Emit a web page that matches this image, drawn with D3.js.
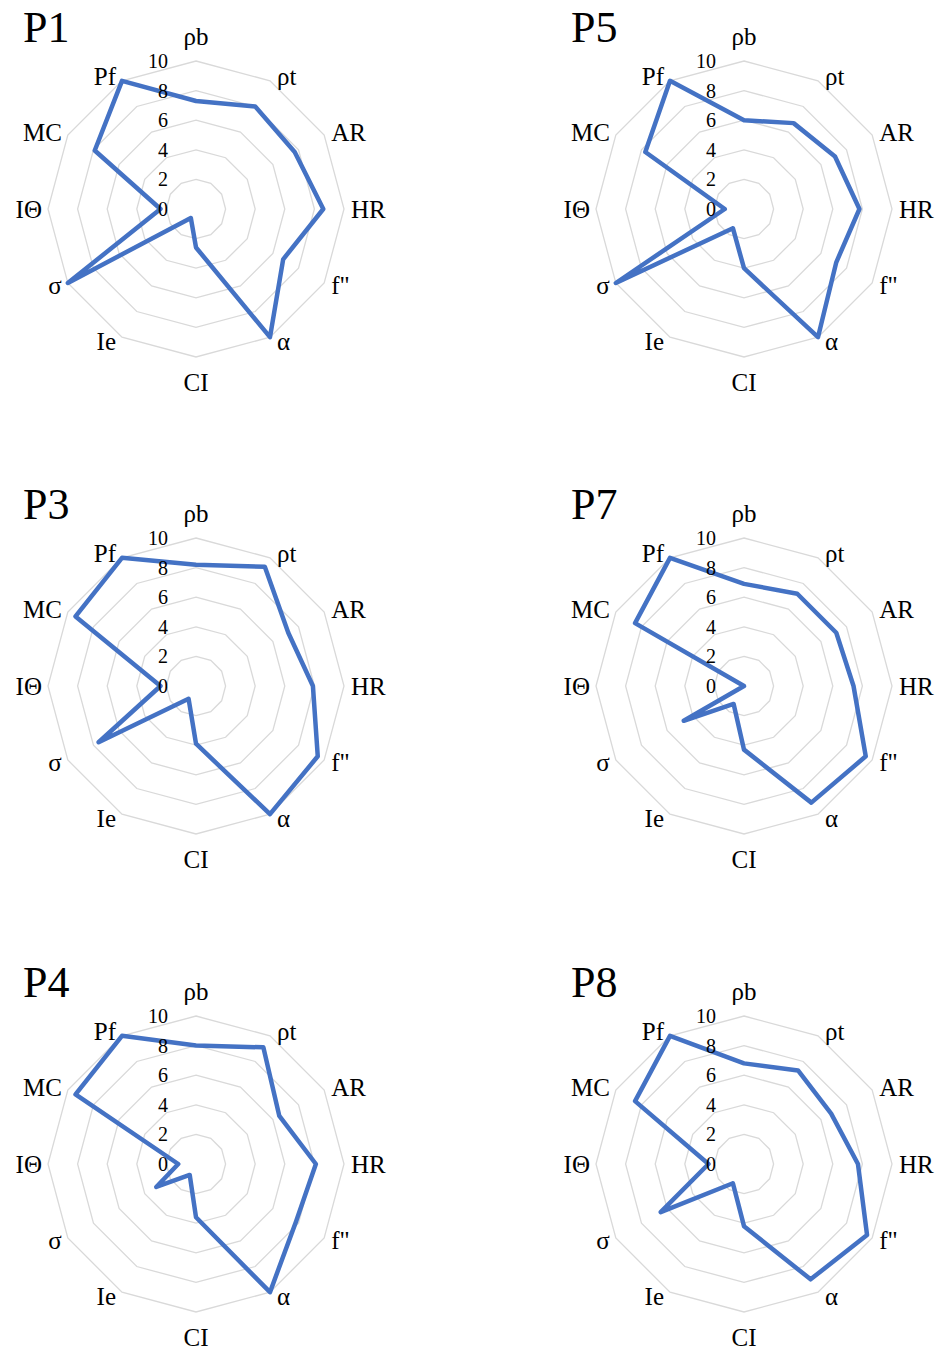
<!DOCTYPE html>
<html>
<head>
<meta charset="utf-8">
<script src="https://cdn.jsdelivr.net/npm/d3@7"></script>
<style>
  body { margin: 0; background: #fff; }
  svg { display: block; }
  text { font-family: "Liberation Serif", "DejaVu Serif", serif; fill: #000; }
</style>
</head>
<body>
<div id="chart"></div>
<script>
// axes clockwise from top
var axes = ["ρb", "ρt", "AR", "HR", "f\"", "α", "CI", "Ie", "σ", "IΘ", "MC", "Pf"];
var ticks = [0, 2, 4, 6, 8, 10];
var panels = ["P1", "P5", "P3", "P7", "P4", "P8"];

var p1 = [7.3, 8.0, 7.7, 8.6, 6.8, 10, 2.6, 0.7, 10, 2.4, 7.9, 10];
var p5 = [6.0, 6.7, 7.1, 7.8, 7.2, 10, 4.0, 1.5, 10, 1.3, 7.7, 10];
var p3 = [8.2, 9.3, 7.2, 7.9, 9.5, 10, 3.9, 1.0, 7.6, 2.4, 9.4, 10];
var p7 = [6.9, 7.2, 7.2, 7.4, 9.5, 9.1, 4.3, 1.4, 4.7, 0, 8.5, 10];
var p4 = [8.0, 9.1, 6.5, 8.1, 7.8, 10, 3.6, 0.85, 3.1, 1.2, 9.4, 10];
var p8 = [6.8, 7.3, 6.8, 7.7, 9.6, 9.0, 4.2, 1.5, 6.5, 2.4, 8.5, 10];

var series = [p1, p5, p3, p7, p4, p8];

var width = 940, height = 1351;
var R = 148;
var colX = [196, 744];
var rowY = [209, 686, 1164];

var svg = d3.select("#chart").append("svg")
    .attr("width", width)
    .attr("height", height);

var r = d3.scaleLinear().domain([0, 10]).range([0, R]);
var angle = d3.scalePoint().domain(d3.range(axes.length))
    .range([0, 2 * Math.PI * (axes.length - 1) / axes.length]);

var radar = d3.lineRadial()
    .angle(function (d, i) { return angle(i); })
    .radius(function (d) { return r(d); })
    .curve(d3.curveLinearClosed);

panels.forEach(function (name, k) {
    var cx = colX[k % 2], cy = rowY[Math.floor(k / 2)];
    var g = svg.append("g").attr("transform", "translate(" + cx + "," + cy + ")");

    // grid rings
    ticks.filter(function (t) { return t > 0; }).forEach(function (t) {
        g.append("path")
            .attr("d", radar(axes.map(function () { return t; })))
            .attr("fill", "none")
            .attr("stroke", "#d9d9d9")
            .attr("stroke-width", 1.3);
    });

    // data line
    g.append("path")
        .attr("d", radar(series[k]))
        .attr("fill", "none")
        .attr("stroke", "#4472c4")
        .attr("stroke-width", 4.5)
        .attr("stroke-linejoin", "round");

    // tick labels
    g.selectAll(".tick").data(ticks).enter().append("text")
        .attr("x", -28)
        .attr("y", function (d) { return -r(d); })
        .attr("text-anchor", "end")
        .attr("dominant-baseline", "central")
        .style("font-size", "20px")
        .text(function (d) { return d; });

    // axis labels
    g.selectAll(".axl").data(axes).enter().append("text")
        .attr("x", function (d, i) {
            var s = Math.sin(angle(i));
            return (R * s) + (Math.abs(s) < 0.01 ? 0 : (s > 0 ? 7 : -6));
        })
        .attr("y", function (d, i) {
            var c = Math.cos(angle(i)), s = Math.sin(angle(i));
            if (Math.abs(s) < 0.01) return -c * (R + 25);
            return -R * c - c * 5;
        })
        .attr("text-anchor", function (d, i) {
            var s = Math.sin(angle(i));
            return Math.abs(s) < 0.01 ? "middle" : (s > 0 ? "start" : "end");
        })
        .attr("dominant-baseline", "central")
        .style("font-size", "25px")
        .text(function (d) { return d; });

    // panel title
    g.append("text")
        .attr("x", -173)
        .attr("y", -167)
        .style("font-size", "44px")
        .text(name);
});
</script>
</body>
</html>
